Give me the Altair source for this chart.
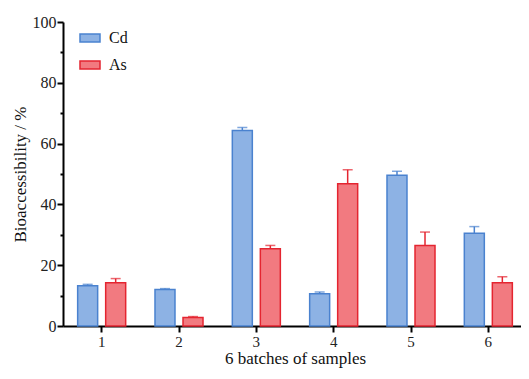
import altair as alt
import pandas as pd

batches = ["1", "2", "3", "4", "5", "6"]
cd_values = [13.2, 12.0, 64.3, 10.6, 49.6, 30.5]
cd_errors = [0.5, 0.3, 1.0, 0.6, 1.3, 2.2]
as_values = [14.2, 2.8, 25.4, 46.8, 26.5, 14.2]
as_errors = [1.4, 0.3, 1.1, 4.6, 4.4, 2.0]
series = ["Cd", "As"]

rows = []
for i, b in enumerate(batches):
    rows.append({"batch": b, "metal": "Cd", "value": cd_values[i], "top": cd_values[i] + cd_errors[i]})
    rows.append({"batch": b, "metal": "As", "value": as_values[i], "top": as_values[i] + as_errors[i]})
df = pd.DataFrame(rows)

FONT = "Liberation Serif"
fill_scale = alt.Scale(domain=series, range=["#8db2e4", "#f27a80"])
stroke_scale = alt.Scale(domain=series, range=["#4a82cf", "#e42530"])

x_enc = alt.X(
    "batch:N",
    sort=batches,
    scale=alt.Scale(paddingInner=0, paddingOuter=0, range=[0, 464]),
    axis=alt.Axis(
        title="6 batches of samples",
        labelAngle=0,
        grid=False,
        domainColor="black",
        domainWidth=2,
        tickColor="black",
        tickWidth=2,
        tickSize=6,
        labelFont=FONT,
        labelFontSize=15,
        labelColor="#222",
        titleFont=FONT,
        titleFontSize=17,
        titleFontWeight="normal",
        titleColor="#111",
        titlePadding=1,
        labelPadding=2,
    ),
)
xoff = alt.XOffset("metal:N", sort=series, scale=alt.Scale(paddingInner=0.2857, paddingOuter=0.523))

y_axis = alt.Axis(
    title="Bioaccessibility / %",
    values=[0, 10, 20, 30, 40, 50, 60, 70, 80, 90, 100],
    labelExpr="datum.value % 20 == 0 ? datum.label : ''",
    grid=False,
    domainColor="black",
    domainWidth=2,
    tickColor="black",
    tickWidth=2,
    tickSize={"condition": {"test": "datum.value % 20 == 0", "value": 6}, "value": 3},
    labelFont=FONT,
    labelFontSize=16,
    labelColor="#222",
    labelPadding=1,
    titleFont=FONT,
    titleFontSize=17,
    titleFontWeight="normal",
    titleColor="#111",
    titlePadding=3,
)
y_scale = alt.Scale(domain=[0, 100], nice=False)

base = alt.Chart(df)

bars = base.mark_bar(size=20, strokeWidth=1.5).encode(
    x=x_enc,
    xOffset=xoff,
    y=alt.Y("value:Q", scale=y_scale, axis=y_axis),
    fill=alt.Fill(
        "metal:N",
        scale=fill_scale,
        sort=series,
        legend=alt.Legend(
            title=None,
            orient="none",
            legendX=16,
            legendY=5,
            symbolType="M-1,-0.4L1,-0.4L1,0.4L-1,0.4Z",
            symbolSize=400,
            symbolStrokeWidth=1.5,
            labelFont=FONT,
            labelFontSize=16,
            labelColor="#111",
            labelOffset=8,
            rowPadding=8,
        ),
    ),
    stroke=alt.Stroke("metal:N", scale=stroke_scale, sort=series, legend=None),
)

err = base.mark_rule(strokeWidth=1.5).encode(
    x=x_enc,
    xOffset=xoff,
    y=alt.Y("value:Q", scale=y_scale, axis=y_axis),
    y2="top:Q",
    color=alt.Color("metal:N", scale=stroke_scale, sort=series, legend=None),
)

caps = base.mark_tick(size=10, thickness=1.5).encode(
    x=x_enc,
    xOffset=xoff,
    y=alt.Y("top:Q", scale=y_scale, axis=y_axis),
    color=alt.Color("metal:N", scale=stroke_scale, sort=series, legend=None),
)

chart = (
    alt.layer(err, caps, bars)
    .resolve_legend(fill="independent", stroke="independent", color="independent")
    .properties(
        width=458,
        height=304,
        autosize=alt.AutoSizeParams(type="none"),
        padding={"left": 55, "top": 14, "right": 0, "bottom": 45},
        view=alt.ViewBackground(stroke="transparent", strokeWidth=0),
    )
    .configure_view(stroke="transparent", strokeWidth=0)
    .configure_axis(grid=False, gridOpacity=0)
    .configure(background="white")
)

chart.save("out.html", embed_options={"renderer": "svg", "actions": False})
